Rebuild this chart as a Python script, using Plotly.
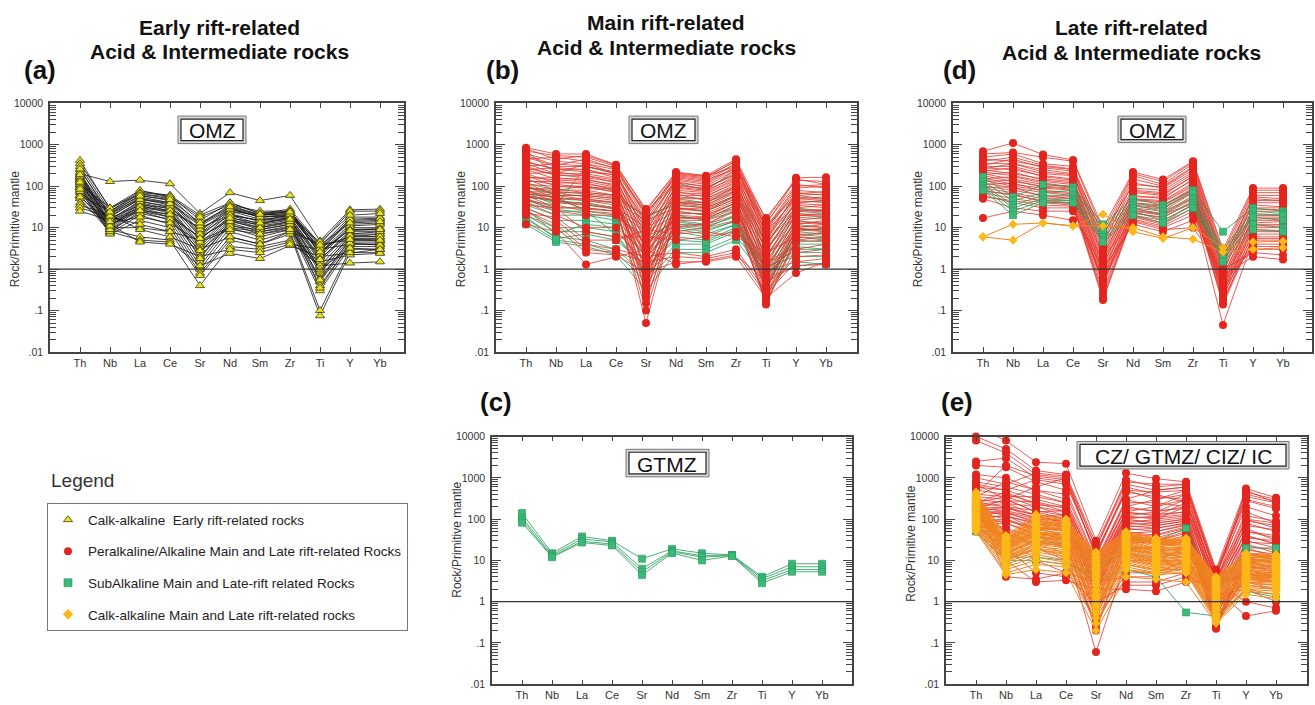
import plotly.graph_objects as go

W, H = 1315, 705

ELEMENTS = ["Th", "Nb", "La", "Ce", "Sr", "Nd", "Sm", "Zr", "Ti", "Y", "Yb"]
Y_TICKS = [0.01, 0.1, 1, 10, 100, 1000, 10000]
Y_TICK_TEXT = [".01", ".1", "1", "10", "100", "1000", "10000"]

# ---------------- data (Rock / Primitive mantle) ----------------
early_calk_a = [
    [200, 130, 140, 115, 22, 70, 45, 60, 4.8, 27, 28],
    [420, 28, 75, 60, 15, 40, 22, 28, 4, 25, 25],
    [350, 30, 80, 55, 12, 35, 25, 25, 3.5, 18, 18],
    [300, 25, 65, 50, 8, 30, 20, 22, 3, 15, 16],
    [250, 22, 60, 45, 7, 28, 18, 20, 2.5, 12, 13],
    [200, 20, 55, 40, 6, 25, 16, 18, 2, 10, 10],
    [180, 18, 50, 35, 5, 22, 14, 16, 1.5, 8, 8],
    [160, 15, 45, 30, 4, 20, 12, 15, 1.2, 7, 7],
    [150, 14, 40, 28, 3.5, 18, 11, 14, 1, 6, 6],
    [140, 12, 38, 25, 3, 16, 10, 13, 0.8, 5.5, 5.5],
    [130, 11, 35, 22, 2.5, 15, 9, 12, 0.6, 5, 5],
    [120, 10, 30, 20, 2, 13, 8, 11, 0.5, 4.5, 4.5],
    [110, 9, 28, 18, 1.5, 12, 7, 10, 0.4, 4, 4],
    [100, 8, 25, 15, 1.2, 10, 6, 9, 0.3, 3.5, 3.5],
    [90, 7.5, 20, 12, 1, 8, 5, 8, 0.1, 3, 3],
    [80, 7, 15, 10, 0.8, 6, 4, 7, 0.075, 2.5, 2.5],
    [70, 10, 10, 8, 0.7, 5, 3.5, 5, 1.5, 2.2, 2.4],
    [60, 9, 6, 5, 0.4, 3.5, 3, 4.5, 1.2, 1.4, 1.5],
    [50, 8, 5, 4.5, 1.2, 2.4, 1.8, 3.7, 2, 2.5, 3],
    [40, 12, 4.5, 4, 2, 3, 2.5, 4, 3, 4, 4],
    [35, 20, 9, 6, 3, 6, 4, 8, 4, 5, 5],
    [30, 18, 12, 8, 5, 10, 8, 10, 3.5, 6, 7],
    [25, 15, 30, 25, 10, 20, 15, 20, 2.5, 9, 9],
    [60, 25, 70, 60, 20, 40, 22, 25, 2.8, 14, 15],
    [110, 30, 65, 55, 18, 35, 20, 22, 3.2, 16, 17],
    [170, 17, 35, 30, 9, 25, 20, 25, 2.2, 11, 12],
    [220, 12, 25, 18, 6, 15, 12, 18, 1.8, 7, 8],
    [95, 22, 50, 40, 12, 30, 18, 19, 4.5, 20, 22],
    [75, 16, 42, 33, 7, 20, 15, 17, 0.9, 6.5, 6],
    [140, 9, 22, 16, 2.8, 11, 9, 12, 0.35, 4.2, 3.8],
    [260, 19, 48, 38, 11, 28, 18, 21, 2.6, 9, 9.5],
    [55, 13, 18, 13, 4.5, 9, 7, 9, 1, 3.2, 3],
    [125, 24, 58, 48, 13, 32, 21, 24, 3.8, 13, 14],
    [190, 11, 32, 26, 1.8, 14, 10, 14, 0.55, 5.2, 5],
    [85, 14, 26, 21, 5.5, 17, 13, 16, 1.7, 8.5, 9],
]

peralk_b = [
    [850, 600, 600, 330, 25, 220, 180, 450, 15, 160, 165],
    [700, 550, 500, 300, 20, 200, 170, 400, 12, 150, 110],
    [600, 400, 350, 250, 15, 180, 150, 350, 10, 100, 110],
    [500, 300, 300, 200, 10, 150, 120, 300, 8, 80, 70],
    [400, 250, 250, 180, 8, 120, 100, 250, 6, 60, 65],
    [350, 200, 200, 150, 5, 100, 90, 200, 5, 50, 55],
    [300, 180, 180, 120, 3, 80, 70, 150, 4, 40, 45],
    [250, 150, 150, 100, 2, 60, 60, 120, 3, 30, 35],
    [200, 120, 120, 80, 1, 50, 50, 100, 2, 25, 28],
    [180, 100, 100, 70, 0.5, 40, 40, 80, 1.5, 20, 22],
    [150, 80, 80, 60, 0.3, 35, 30, 60, 1, 15, 18],
    [120, 60, 60, 50, 0.15, 30, 25, 50, 0.5, 12, 15],
    [100, 50, 50, 40, 0.05, 25, 20, 40, 0.3, 10, 12],
    [80, 40, 40, 30, 0.1, 20, 18, 30, 0.2, 8, 10],
    [60, 30, 30, 25, 0.2, 15, 15, 25, 0.15, 6, 8],
    [50, 25, 20, 20, 0.5, 10, 12, 20, 0.14, 5, 6],
    [40, 20, 10, 10, 1, 8, 10, 15, 0.18, 3, 4],
    [30, 15, 4, 3, 2, 2.5, 2, 3, 0.3, 2, 2.2],
    [25, 12, 3, 2.5, 1.5, 2, 1.8, 2.5, 0.25, 1.5, 1.8],
    [20, 10, 2.5, 2.2, 0.8, 1.5, 1.5, 2, 0.2, 0.8, 1.5],
    [12, 8, 1.3, 2, 3, 1.3, 1.6, 2.2, 0.5, 1.2, 1.3],
    [700, 200, 350, 200, 12, 160, 130, 350, 5, 70, 60],
    [450, 500, 400, 280, 18, 190, 160, 420, 9, 90, 100],
    [300, 350, 300, 220, 6, 140, 110, 280, 7, 55, 48],
    [250, 280, 250, 160, 4, 110, 85, 220, 3.5, 45, 40],
    [200, 220, 180, 140, 2.5, 90, 75, 180, 2.5, 35, 30],
    [160, 160, 140, 110, 1.5, 70, 65, 140, 1.8, 28, 25],
    [130, 130, 110, 90, 0.8, 55, 50, 110, 1.2, 22, 20],
    [110, 100, 90, 75, 0.4, 45, 40, 90, 0.8, 18, 16],
    [90, 85, 70, 60, 0.25, 38, 32, 70, 0.6, 14, 13],
    [75, 70, 55, 45, 0.6, 30, 28, 55, 0.4, 11, 10],
    [65, 55, 45, 35, 1.2, 22, 22, 45, 0.35, 9, 8],
    [55, 45, 35, 28, 2.5, 18, 16, 35, 0.25, 7, 7],
    [45, 35, 25, 22, 4, 12, 12, 28, 0.9, 4.5, 5],
    [35, 30, 8, 6, 6, 5, 6, 8, 1.5, 2.5, 3],
    [22, 18, 5, 5, 9, 7, 8, 6, 2.5, 6, 5.5],
    [800, 450, 550, 320, 28, 210, 175, 300, 17, 140, 130],
    [550, 320, 450, 260, 22, 170, 140, 260, 13, 110, 90],
    [380, 260, 220, 190, 14, 130, 95, 190, 11, 65, 75],
    [270, 190, 160, 130, 9, 95, 80, 160, 8, 50, 45],
    [170, 140, 130, 95, 7, 75, 55, 130, 6, 38, 35],
    [140, 110, 95, 85, 5, 65, 45, 95, 4.5, 26, 24],
    [95, 75, 65, 55, 3.5, 42, 35, 75, 3, 20, 19],
    [70, 60, 48, 40, 2.2, 28, 25, 60, 2, 13, 12],
    [58, 48, 28, 25, 1.8, 16, 18, 40, 1.3, 9.5, 9],
]

subalk_b = [
    [100, 60, 60, 50, 20, 35, 30, 60, 3, 25, 22],
    [80, 50, 45, 40, 15, 30, 25, 50, 2, 20, 18],
    [60, 40, 35, 30, 10, 25, 20, 40, 1.5, 15, 12],
    [50, 30, 30, 25, 8, 20, 15, 30, 1, 12, 10],
    [40, 25, 25, 20, 5, 15, 12, 25, 0.8, 10, 8],
    [35, 20, 20, 15, 3, 12, 10, 20, 0.6, 8, 7],
    [30, 15, 15, 12, 2, 10, 8, 15, 0.5, 6, 5],
    [25, 10, 10, 8, 1.5, 8, 6, 12, 0.7, 4, 4],
    [20, 8, 8, 6, 1, 6, 5, 10, 1, 3, 3],
    [16, 6, 5, 3, 0.7, 4, 4, 8, 1.2, 2, 2],
    [14, 5, 4, 2.5, 0.5, 3, 3, 6, 0.9, 1.5, 1.3],
    [12, 4.5, 3.5, 2.2, 0.3, 2.5, 2.5, 5, 0.6, 1.2, 1.4],
    [70, 35, 300, 200, 25, 120, 80, 250, 10, 60, 50],
    [120, 80, 100, 80, 12, 50, 40, 100, 5, 30, 25],
    [45, 28, 22, 18, 6, 14, 11, 18, 0.4, 7, 6],
    [55, 45, 38, 28, 4, 18, 16, 35, 0.3, 9, 9],
    [90, 70, 70, 60, 18, 40, 35, 80, 4, 40, 45],
    [28, 7, 12, 10, 2.5, 9, 7, 12, 0.2, 5, 4.5],
    [18, 5.5, 7, 5, 1.2, 5, 4.5, 9, 0.8, 2.5, 2.5],
    [65, 55, 25, 7, 0.8, 11, 9, 14, 1.5, 3.5, 3],
]

subalk_c = [
    [140, 15, 38, 30, 11, 19, 15, 13.5, 4, 8.3, 8.3],
    [110, 13.5, 33, 28, 6.3, 17, 13, 13.5, 3.6, 7, 7],
    [95, 12.5, 29, 25, 5.3, 16, 12, 13, 3.2, 6, 6],
    [82, 12, 27, 23, 4.4, 15, 10, 12.8, 2.8, 5.3, 5.3],
]

peralk_d = [
    [700, 1100, 580, 430, 10, 220, 145, 400, 3, 90, 90],
    [600, 650, 500, 400, 8, 200, 130, 380, 2.5, 80, 80],
    [500, 600, 350, 300, 6, 180, 110, 350, 2, 70, 70],
    [450, 400, 300, 250, 5, 150, 100, 300, 1.5, 60, 60],
    [350, 350, 250, 200, 4, 120, 90, 250, 1.2, 55, 50],
    [300, 300, 200, 180, 3, 80, 70, 200, 1, 45, 45],
    [280, 250, 180, 150, 2.5, 70, 60, 180, 0.8, 40, 40],
    [250, 200, 150, 130, 2, 60, 50, 150, 0.6, 30, 30],
    [220, 180, 130, 110, 1.5, 50, 45, 120, 0.5, 25, 25],
    [200, 150, 110, 100, 1.2, 45, 40, 100, 0.4, 20, 20],
    [180, 130, 100, 90, 1, 40, 35, 90, 0.35, 18, 18],
    [160, 110, 90, 80, 0.8, 35, 30, 80, 0.3, 15, 15],
    [140, 100, 80, 70, 0.6, 30, 25, 70, 0.25, 12, 12],
    [120, 90, 70, 60, 0.5, 28, 22, 60, 0.2, 10, 10],
    [100, 80, 60, 50, 0.4, 25, 20, 50, 0.15, 8, 8],
    [90, 70, 50, 45, 0.3, 22, 18, 40, 0.14, 6, 6],
    [80, 60, 45, 40, 0.2, 20, 15, 35, 0.045, 5, 5],
    [70, 50, 40, 35, 0.18, 18, 12, 30, 0.3, 4, 4],
    [60, 40, 30, 30, 0.5, 15, 10, 20, 0.5, 3, 3],
    [50, 30, 25, 25, 1, 12, 8, 15, 0.7, 2, 1.7],
    [17, 25, 20, 15, 2, 14, 9, 10, 1, 2.5, 2.2],
    [400, 500, 320, 260, 7, 110, 95, 280, 1.8, 50, 45],
    [320, 450, 280, 230, 4.5, 90, 80, 220, 1.4, 35, 32],
    [260, 350, 220, 190, 3.5, 75, 65, 170, 0.9, 28, 27],
    [230, 280, 170, 140, 2.2, 55, 55, 140, 0.7, 22, 20],
    [190, 220, 140, 120, 1.8, 48, 42, 110, 0.55, 16, 17],
    [150, 170, 120, 95, 1.3, 38, 33, 85, 0.45, 13, 14],
    [130, 140, 95, 85, 0.9, 33, 28, 75, 0.32, 11, 11],
    [110, 120, 75, 65, 0.7, 26, 21, 55, 0.28, 9, 8.5],
    [95, 95, 55, 55, 0.45, 23, 17, 45, 0.22, 7, 7],
    [75, 65, 42, 38, 0.25, 19, 13, 38, 0.18, 5.5, 5.5],
    [55, 45, 35, 33, 0.6, 16, 11, 25, 0.6, 3.5, 3.5],
]

subalk_d = [
    [170, 55, 110, 95, 12, 50, 35, 80, 8, 30, 25],
    [130, 45, 70, 80, 10, 40, 30, 70, 3, 25, 22],
    [110, 35, 60, 60, 8, 35, 25, 50, 2.5, 20, 20],
    [100, 30, 50, 50, 6, 30, 20, 40, 2, 18, 15],
    [90, 25, 45, 45, 5, 25, 15, 35, 1.8, 12, 10],
    [80, 20, 40, 40, 4.5, 20, 13, 30, 1.5, 9, 8],
]

calk_main_d = [
    [6, 12, 13, 11, 21, 8, 5.5, 10, 3.3, 4.5, 4.7],
    [6, 5, 13, 11, 11, 10, 6, 5.3, 2.6, 3, 3.3],
]

peralk_e = [
    [17000, 8000, 2400, 2200, 30, 1300, 950, 800, 6, 550, 330],
    [10000, 5000, 1500, 1200, 25, 800, 700, 700, 5, 450, 300],
    [8000, 4000, 1200, 1000, 20, 700, 500, 600, 4, 350, 250],
    [2500, 3000, 1000, 800, 15, 500, 300, 400, 3, 150, 80],
    [2000, 1800, 800, 500, 10, 300, 200, 300, 2, 100, 60],
    [1200, 1000, 500, 300, 8, 200, 150, 200, 1.5, 80, 50],
    [800, 600, 400, 250, 6, 150, 120, 150, 1, 60, 30],
    [600, 500, 300, 200, 5, 120, 100, 120, 0.8, 40, 25],
    [500, 400, 250, 150, 4, 100, 80, 100, 0.6, 30, 20],
    [400, 350, 200, 120, 3, 80, 70, 90, 0.5, 25, 15],
    [350, 300, 150, 100, 2.5, 70, 60, 80, 0.4, 20, 12],
    [300, 250, 120, 80, 2, 60, 50, 70, 0.3, 15, 10],
    [250, 200, 100, 60, 1.5, 50, 40, 60, 0.25, 12, 8],
    [200, 150, 80, 50, 1, 40, 30, 50, 0.22, 10, 6],
    [180, 120, 60, 40, 0.5, 30, 25, 40, 0.3, 8, 5],
    [150, 100, 50, 30, 0.2, 20, 20, 30, 0.5, 6, 4],
    [120, 80, 40, 20, 0.06, 10, 10, 20, 0.8, 4, 3],
    [100, 60, 20, 10, 0.3, 5, 5, 10, 1, 3, 2],
    [80, 40, 10, 5, 0.8, 3, 3, 5, 1.5, 2, 1],
    [60, 20, 5, 4, 1, 2.5, 2.5, 4, 2, 0.45, 0.6],
    [50, 10, 3, 3.3, 2, 2, 1.8, 3, 3, 1, 0.7],
    [300, 4, 3.5, 5, 3, 4, 4, 8, 2.5, 5, 3],
    [700, 300, 600, 1000, 12, 600, 400, 250, 4, 500, 250],
    [400, 2000, 1100, 900, 14, 450, 350, 300, 3.5, 120, 90],
    [350, 800, 500, 400, 9, 250, 250, 200, 2.8, 90, 70],
    [250, 350, 350, 250, 7, 180, 160, 180, 2.2, 50, 40],
    [220, 280, 260, 180, 5.5, 140, 130, 150, 1.8, 35, 30],
    [200, 240, 200, 150, 4.5, 110, 110, 130, 1.2, 28, 25],
    [180, 200, 160, 120, 3.5, 90, 90, 110, 0.9, 22, 18],
    [160, 180, 130, 100, 2.8, 75, 80, 100, 0.7, 18, 14],
    [140, 160, 110, 90, 2.2, 65, 70, 90, 0.55, 14, 11],
    [130, 140, 90, 75, 1.8, 55, 60, 80, 0.45, 11, 9],
    [110, 120, 75, 65, 1.2, 45, 50, 75, 0.35, 9, 7],
    [90, 100, 60, 55, 0.8, 38, 42, 65, 0.28, 7, 6],
    [75, 80, 45, 42, 0.6, 32, 35, 55, 0.24, 5.5, 5],
    [65, 60, 35, 35, 0.4, 25, 30, 45, 0.3, 4.5, 4],
    [55, 45, 25, 25, 0.25, 18, 22, 35, 0.4, 3.5, 3],
    [250, 450, 220, 200, 8, 300, 500, 600, 5.5, 300, 200],
    [180, 300, 150, 160, 6, 200, 300, 500, 4.5, 200, 120],
    [150, 200, 120, 120, 4, 150, 200, 400, 3, 100, 80],
    [130, 150, 100, 90, 3, 120, 150, 300, 2.5, 70, 55],
    [110, 120, 80, 70, 2, 100, 120, 250, 2, 50, 35],
    [90, 90, 60, 55, 1.5, 80, 100, 200, 1.5, 40, 25],
    [1000, 700, 1300, 1100, 20, 900, 600, 700, 4, 400, 270],
    [700, 500, 900, 700, 16, 500, 450, 500, 3, 280, 180],
]

subalk_e = [
    [50, 10, 10, 8, 5, 30, 30, 60, 1.5, 20, 20],
    [60, 12, 12, 10, 3, 6, 4, 0.55, 0.45, 1.8, 1.3],
    [80, 15, 30, 25, 8, 15, 12, 15, 2, 15, 12],
]

calk_main_e = [
    [450, 40, 130, 100, 16, 50, 35, 35, 4, 15, 14],
    [400, 38, 110, 90, 14, 45, 32, 33, 3.8, 14, 13],
    [350, 35, 100, 80, 12, 42, 30, 30, 3.5, 13, 12],
    [320, 32, 90, 75, 11, 40, 28, 28, 3.2, 12, 11],
    [300, 30, 80, 70, 10, 38, 26, 26, 3, 11, 10],
    [280, 28, 75, 65, 9, 35, 24, 25, 2.8, 10, 9.5],
    [260, 27, 70, 60, 8, 32, 22, 24, 2.6, 9.5, 9],
    [240, 26, 65, 55, 7, 30, 20, 22, 2.4, 9, 8.5],
    [220, 25, 60, 50, 6.5, 28, 19, 21, 2.2, 8.5, 8],
    [200, 24, 55, 45, 6, 26, 18, 20, 2, 8, 7.5],
    [190, 23, 50, 42, 5.5, 25, 17, 19, 1.9, 7.5, 7],
    [180, 22, 48, 40, 5, 24, 16, 18, 1.8, 7, 6.5],
    [170, 21, 45, 38, 4.5, 22, 15, 17, 1.7, 6.5, 6],
    [160, 20, 42, 35, 4, 21, 14, 16, 1.6, 6, 5.5],
    [150, 19, 40, 32, 3.5, 20, 13, 15, 1.5, 5.5, 5],
    [140, 18, 38, 30, 3, 19, 12, 14, 1.4, 5, 4.8],
    [130, 17, 35, 28, 2.5, 18, 11, 13, 1.3, 4.8, 4.5],
    [120, 16, 32, 26, 2, 17, 10, 12, 1.2, 4.5, 4.2],
    [110, 15, 30, 24, 1.8, 16, 9.5, 11, 1.1, 4.2, 4],
    [100, 14, 28, 22, 1.5, 15, 9, 10, 1, 4, 3.8],
    [95, 13, 25, 20, 1.2, 14, 8.5, 9.5, 0.9, 3.8, 3.5],
    [90, 12, 22, 18, 1, 13, 8, 9, 0.8, 3.5, 3.2],
    [85, 11, 20, 16, 0.9, 12, 7.5, 8.5, 0.7, 3.2, 3],
    [80, 10, 18, 14, 0.8, 11, 7, 8, 0.6, 3, 2.8],
    [75, 9, 16, 12, 0.7, 10, 6.5, 7.5, 0.5, 2.8, 2.5],
    [70, 8, 14, 10, 0.6, 9, 6, 7, 0.45, 2.5, 2.2],
    [65, 7, 12, 9, 0.5, 8, 5.5, 6.5, 0.4, 2.2, 2],
    [60, 6, 10, 8, 0.4, 7, 5, 6, 0.35, 2, 1.8],
    [55, 5, 8, 7, 0.3, 6, 4.5, 5, 0.32, 1.8, 1.5],
    [50, 4.5, 6, 5, 0.2, 4, 3.5, 3, 0.3, 1.5, 1.2],
    [420, 25, 50, 30, 8, 20, 15, 12, 1, 5, 4],
    [380, 20, 40, 25, 5, 15, 10, 10, 0.8, 4, 3],
    [250, 15, 30, 20, 3, 10, 8, 8, 0.6, 3, 2.5],
    [200, 12, 25, 15, 2, 8, 6, 6, 0.5, 2.5, 2],
    [150, 10, 20, 12, 1, 6, 5, 5, 0.4, 2, 1.5],
    [100, 35, 90, 80, 15, 45, 30, 32, 3.5, 12, 12],
    [80, 30, 80, 70, 10, 40, 25, 28, 2.5, 10, 10],
    [120, 28, 120, 95, 12, 48, 34, 30, 3, 14, 13],
    [300, 18, 60, 55, 9, 35, 28, 30, 2, 12, 11],
    [230, 14, 35, 30, 4, 18, 14, 16, 1.3, 6, 5.5],
    [170, 9, 26, 23, 2.5, 13, 11, 12, 0.9, 4, 3.6],
    [260, 22, 45, 36, 6, 22, 17, 20, 2.2, 7.5, 7],
    [140, 33, 65, 58, 11, 36, 27, 27, 3.3, 11, 10],
    [60, 12, 18, 15, 1.4, 12, 9, 10, 0.7, 5, 4.5],
    [330, 26, 85, 68, 7.5, 33, 25, 24, 2.7, 9.8, 9.2],
]

LEGEND_NAMES = [
    "Calk-alkaline  Early rift-related rocks",
    "Peralkaline/Alkaline Main and Late rift-related Rocks",
    "SubAlkaline Main and Late-rift related Rocks",
    "Calk-alkaline Main and Late rift-related rocks",
]

# ---------------- styles ----------------
STYLE = {
    "early": dict(line=dict(color="#151515", width=0.8),
                  marker=dict(symbol="triangle-up", size=8, color="#ece41a",
                              line=dict(color="#3a3a1a", width=0.8))),
    "peralk": dict(line=dict(color="#e6352c", width=0.8),
                   marker=dict(symbol="circle", size=8, color="#e2251e",
                               line=dict(width=0))),
    "subalk": dict(line=dict(color="#1f9a55", width=0.8),
                   marker=dict(symbol="square", size=7, color="#3cb878",
                               line=dict(color="#2a9a60", width=0.6))),
    "calk": dict(line=dict(color="#f0841f", width=1.0),
                 marker=dict(symbol="diamond", size=7, color="#fbb817",
                             line=dict(width=0))),
}

# panel pixel boxes: letter, axis number, left, right, top, bottom
PANELS = [
    ("a", 1, 50, 404, 99, 352),
    ("b", 2, 496, 857, 99, 352),
    ("c", 3, 492, 852, 438, 690),
    ("d", 4, 953, 1312, 99, 352),
    ("e", 5, 946, 1307, 438, 690),
]


def px(x):
    return x / W


def py(y):
    return 1 - y / H


def stack(lines):
    xs, ys = [], []
    for ln in lines:
        xs += ELEMENTS + [None]
        ys += list(ln) + [None]
    return xs, ys


fig = go.Figure()


def add_group(lines, style, n, clip=True):
    xs, ys = stack(lines)
    st = STYLE[style]
    fig.add_trace(go.Scatter(
        x=xs, y=ys, mode="lines+markers", line=st["line"], marker=st["marker"],
        xaxis="x" if n == 1 else f"x{n}", yaxis="y" if n == 1 else f"y{n}",
        showlegend=False, hoverinfo="skip", connectgaps=False,
        cliponaxis=clip))


add_group(early_calk_a, "early", 1)
add_group(subalk_b, "subalk", 2)
add_group(peralk_b, "peralk", 2)
add_group(subalk_c, "subalk", 3)
add_group(peralk_d, "peralk", 4)
add_group(subalk_d, "subalk", 4)
add_group(calk_main_d, "calk", 4)
add_group(peralk_e, "peralk", 5, clip=False)
add_group(subalk_e, "subalk", 5)
add_group(calk_main_e, "calk", 5)

# legend entries
for i, (key, name) in enumerate(zip(["early", "peralk", "subalk", "calk"], LEGEND_NAMES)):
    mk = dict(STYLE[key]["marker"])
    mk["size"] = 8
    fig.add_trace(go.Scatter(x=[None], y=[None], mode="markers", marker=mk,
                             name=name, legendgroup=f"g{i}", showlegend=True))

layout = dict(
    width=W, height=H, margin=dict(l=0, r=0, t=0, b=0),
    paper_bgcolor="white", plot_bgcolor="white",
    font=dict(family="Arial, Liberation Sans, sans-serif", color="#222"),
    showlegend=True,
    legend=dict(x=px(47), y=py(506), xanchor="left", yanchor="top",
                bordercolor="#777", borderwidth=1, bgcolor="white",
                font=dict(size=13.5, color="#222"), tracegroupgap=11,
                itemwidth=30),
)

AX_COLOR = "#444"
minor_vals = [m * 10 ** k for k in range(-2, 4) for m in range(2, 10)]
shapes = []
annotations = []

for letter, n, l, r, t, b in PANELS:
    xk = "xaxis" if n == 1 else f"xaxis{n}"
    yk = "yaxis" if n == 1 else f"yaxis{n}"
    xr = "x" if n == 1 else f"x{n}"
    yr = "y" if n == 1 else f"y{n}"
    layout[xk] = dict(
        domain=[px(l), px(r)], anchor=yr, type="category",
        categoryorder="array", categoryarray=ELEMENTS,
        range=[-1, -1 + (r - l) / 30.0],
        showline=True, linecolor=AX_COLOR, linewidth=1.5, mirror="ticks",
        ticks="inside", ticklen=5, tickcolor=AX_COLOR, tickwidth=1,
        showgrid=False, zeroline=False,
        tickfont=dict(size=11, color="#333"),
    )
    layout[yk] = dict(
        domain=[py(b), py(t)], anchor=xr, type="log", range=[-2, 4],
        tickmode="array", tickvals=Y_TICKS, ticktext=Y_TICK_TEXT,
        showline=True, linecolor=AX_COLOR, linewidth=1.5, mirror="ticks",
        ticks="inside", ticklen=9, tickcolor=AX_COLOR, tickwidth=1,
        minor=dict(ticks="inside", ticklen=6, tickcolor=AX_COLOR, tickwidth=1,
                   tickmode="array", tickvals=minor_vals, showgrid=False),
        showgrid=False, zeroline=False, ticklabelstandoff=3,
        tickfont=dict(size=10.5, color="#333"),
    )
    # reference line at 1
    shapes.append(dict(type="line", xref=f"{xr} domain", yref=f"{yr} domain",
                       x0=0, x1=1, y0=1 / 3, y1=1 / 3,
                       line=dict(color="#333", width=1.2)))
    # y axis title
    ylab_y = {"a": 227, "b": 227, "d": 227, "c": 543, "e": 547}[letter]
    annotations.append(dict(text="Rock/Primitive mantle", textangle=-90,
                            xref="paper", yref="paper", x=px(l - 35), y=py(ylab_y),
                            xanchor="center", yanchor="middle",
                            showarrow=False, font=dict(size=12, color="#333")))

# zone label boxes: text, left, right, top, bottom
ZONE_BOXES = [
    ("OMZ", 178, 246, 112, 140),
    ("OMZ", 629, 698, 112, 140),
    ("OMZ", 1118, 1186, 112, 139),
    ("GTMZ", 626, 709, 451, 479),
    ("CZ/ GTMZ/ CIZ/ IC", 1077, 1289, 443, 471),
]
for txt, l, r, t, b in ZONE_BOXES:
    shapes.append(dict(type="rect", xref="paper", yref="paper",
                       x0=px(l), x1=px(r), y0=py(b), y1=py(t),
                       line=dict(color="#777", width=1), fillcolor="#d8d8d8"))
    shapes.append(dict(type="rect", xref="paper", yref="paper",
                       x0=px(l + 3), x1=px(r - 3), y0=py(b - 3), y1=py(t + 3),
                       line=dict(color="#222", width=1.2), fillcolor="white"))
    annotations.append(dict(text=txt, xref="paper", yref="paper",
                            x=px((l + r) / 2), y=py((t + b) / 2 + 1),
                            xanchor="center", yanchor="middle",
                            showarrow=False, font=dict(size=21, color="#111")))

# titles (two lines each): text, centre x, line y
TITLE_LINES = [
    ("Early rift-related", 220, 22), ("Acid & Intermediate rocks", 220, 46),
    ("Main rift-related", 666, 17), ("Acid & Intermediate rocks", 666, 42),
    ("Late rift-related", 1131, 22), ("Acid & Intermediate rocks", 1131, 47),
]
for txt, cx, cy in TITLE_LINES:
    annotations.append(dict(text=f"<b>{txt}</b>", xref="paper", yref="paper",
                            x=px(cx), y=py(cy), xanchor="center", yanchor="middle",
                            showarrow=False, font=dict(size=21, color="#111")))

LETTERS = [("(a)", 22, 65), ("(b)", 484, 65), ("(d)", 941, 65),
           ("(c)", 478, 403), ("(e)", 939, 403)]
for txt, lx, cy in LETTERS:
    annotations.append(dict(text=f"<b>{txt}</b>", xref="paper", yref="paper",
                            x=px(lx), y=py(cy), xanchor="left", yanchor="middle",
                            showarrow=False, font=dict(size=26, color="#111")))

annotations.append(dict(text="Legend", xref="paper", yref="paper",
                        x=px(49), y=py(483), xanchor="left", yanchor="middle",
                        showarrow=False, font=dict(size=19, color="#333")))

layout["shapes"] = shapes
layout["annotations"] = annotations
fig.update_layout(**layout)

fig.write_html("out.html")
